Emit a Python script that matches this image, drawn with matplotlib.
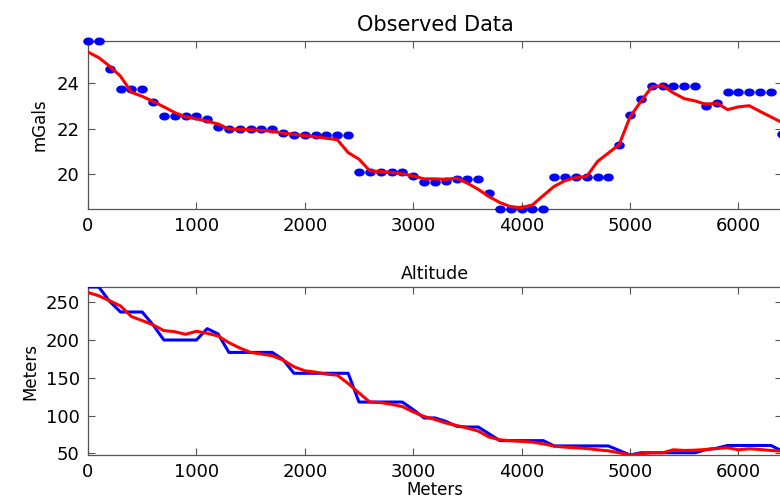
import matplotlib
matplotlib.use("Agg")
import matplotlib.pyplot as plt
import numpy as np
from matplotlib.path import Path


# station spacing along the profile (m)
distance = np.arange(0, 6401, 100)

gravity_obs = [
    25.83, 25.83, 24.61, 23.74, 23.74, 23.74, 23.18, 22.55, 22.55, 22.55,
    22.55, 22.42, 22.09, 21.97, 21.97, 21.97, 21.97, 21.97, 21.79, 21.72,
    21.72, 21.72, 21.72, 21.72, 21.72, 20.12, 20.12, 20.12, 20.12, 20.12,
    19.93, 19.68, 19.68, 19.72, 19.80, 19.80, 19.80, 19.17, 18.48, 18.48,
    18.48, 18.48, 18.48, 19.86, 19.86, 19.86, 19.86, 19.86, 19.86, 21.28,
    22.59, 23.28, 23.88, 23.88, 23.88, 23.88, 23.88, 23.00, 23.12, 23.59,
    23.59, 23.59, 23.59, 23.59, 21.77,
]

gravity_smooth = [
    25.35, 25.10, 24.73, 24.29, 23.59, 23.41, 23.19, 22.95, 22.70, 22.51,
    22.43, 22.32, 22.20, 21.98, 21.97, 21.95, 21.92, 21.88, 21.80, 21.75,
    21.69, 21.64, 21.58, 21.51, 20.95, 20.66, 20.15, 20.12, 20.08, 20.02,
    19.93, 19.80, 19.80, 19.78, 19.83, 19.61, 19.34, 19.02, 18.76, 18.58,
    18.54, 18.66, 19.07, 19.47, 19.72, 19.86, 19.90, 20.56, 20.93, 21.30,
    22.51, 23.19, 23.82, 23.88, 23.56, 23.31, 23.21, 23.06, 23.12, 22.83,
    22.95, 23.00, 22.75, 22.51, 22.27,
]

altitude_obs = [
    270, 270, 251, 237, 237, 237, 220, 200, 200, 200,
    200, 215, 208, 183.6, 183.6, 183.6, 183.6, 183.6, 174, 156,
    156, 156, 156, 156, 156, 118, 118, 118, 118, 118,
    108, 97, 97, 92.5, 86, 85, 85, 76, 67, 67,
    67, 67, 67, 60, 60, 60, 60, 60, 60, 54,
    48, 51, 51, 51, 51, 51, 51, 55, 57, 60.6,
    60.6, 60.6, 60.6, 60.6, 53.5,
]

altitude_smooth = [
    262.8, 258.4, 251.8, 245, 231, 225.7, 220, 212.4, 211, 207.5,
    211.5, 208.8, 205.3, 196.5, 189.4, 183.6, 181.4, 179.2, 173.5, 164.6,
    159.3, 157.5, 154.9, 153.5, 142.5, 130, 118, 117.3, 115, 112,
    105, 99, 95, 90.3, 87, 83.6, 79.6, 71.7, 68.1, 66.8,
    66, 65, 62.8, 59.7, 58.4, 57.5, 56.6, 54.9, 53.5, 50.9,
    48.2, 49.6, 50.9, 50.9, 54.9, 54, 54.4, 55.3, 56.6, 57.5,
    54.9, 56.2, 55.3, 54, 53.1,
]

x_ticks = [0, 1000, 2000, 3000, 4000, 5000, 6000]
gravity_ticks = [20, 22, 24]
altitude_ticks = [50, 100, 150, 200, 250]

SPINE_COLOR = "#555555"


def ellipse_marker(ratio=0.72):
    t = np.linspace(0, 2 * np.pi, 40)
    verts = np.column_stack([np.cos(t), ratio * np.sin(t)])
    return Path(verts, closed=True)


def style_axes(ax, yticks):
    ax.set_xlim(distance[0], distance[-1])
    ax.set_xticks(x_ticks)
    ax.set_yticks(yticks)
    ax.tick_params(direction="in", length=5, width=0.8, color=SPINE_COLOR,
                   top=True, right=True, labelsize=13, pad=6)
    for spine in ax.spines.values():
        spine.set_color(SPINE_COLOR)
        spine.set_linewidth(0.9)


fig = plt.figure(figsize=(7.8, 5.01), dpi=100)
ax_top = fig.add_axes([0.1128, 0.5828, 0.8895, 0.3353])
ax_bot = fig.add_axes([0.1128, 0.0918, 0.8895, 0.3353])

# observed gravity
ax_top.plot(distance, gravity_obs, linestyle="none", marker=ellipse_marker(),
            markersize=6.6, color="#0000ff", clip_on=False, zorder=3)
ax_top.plot(distance, gravity_smooth, color="#ff0000", linewidth=2.2, zorder=4)
ax_top.set_ylim(min(gravity_obs), max(gravity_obs))
style_axes(ax_top, gravity_ticks)
ax_top.set_title("Observed Data", fontsize=15, pad=7)
ax_top.set_ylabel("mGals", fontsize=12, labelpad=6)

# altitude
ax_bot.plot(distance, altitude_obs, color="#0000ff", linewidth=2.2, zorder=3)
ax_bot.plot(distance, altitude_smooth, color="#ff0000", linewidth=2.2, zorder=4)
ax_bot.set_ylim(min(altitude_obs), max(altitude_obs))
style_axes(ax_bot, altitude_ticks)
ax_bot.set_title("Altitude", fontsize=12.5, pad=6)
ax_bot.set_ylabel("Meters", fontsize=12, labelpad=4)
ax_bot.set_xlabel("Meters", fontsize=12, labelpad=0)

fig.savefig("out.png", dpi=100)
